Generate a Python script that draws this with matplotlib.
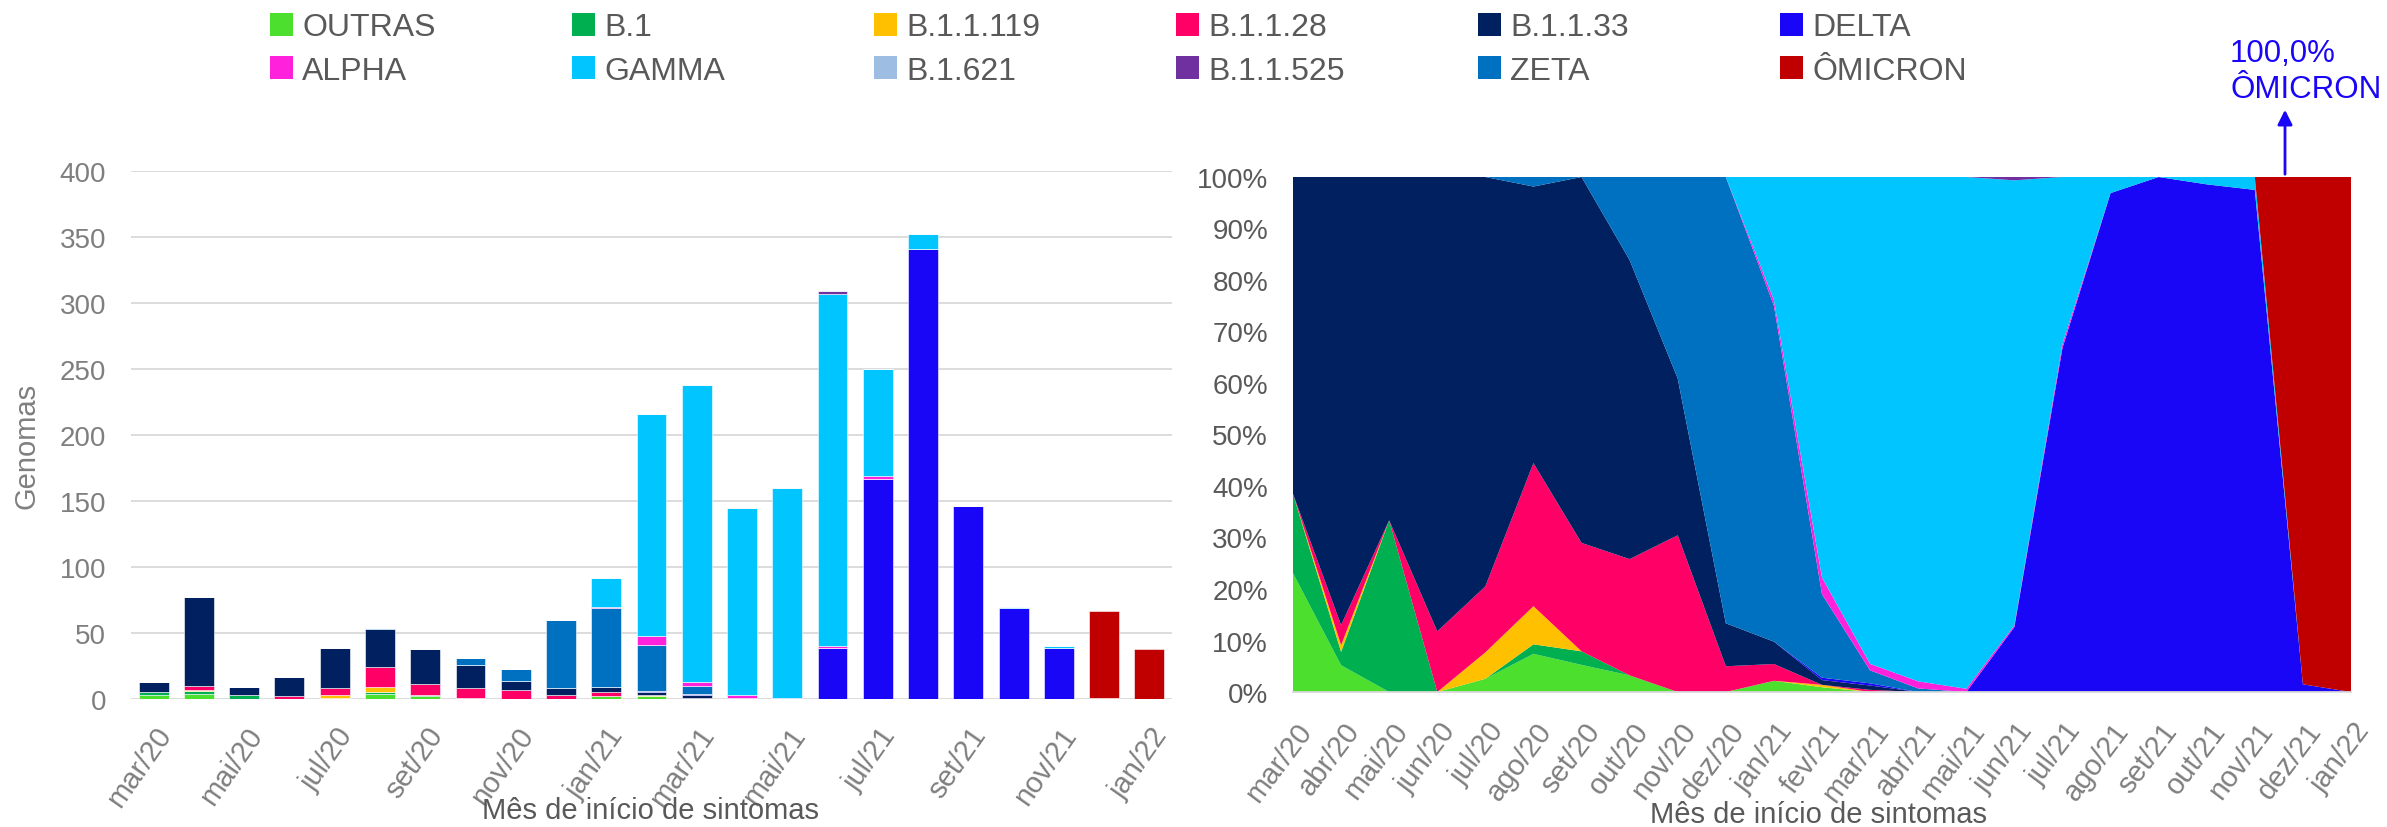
import numpy as np
import matplotlib
matplotlib.use("Agg")
import matplotlib.pyplot as plt
import matplotlib.transforms as mtransforms
from matplotlib.patches import Rectangle, FancyArrowPatch

plt.rcParams['font.family'] = ['Liberation Sans', 'DejaVu Sans']

months = ["mar/20", "abr/20", "mai/20", "jun/20", "jul/20", "ago/20", "set/20", "out/20",
          "nov/20", "dez/20", "jan/21", "fev/21", "mar/21", "abr/21", "mai/21", "jun/21",
          "jul/21", "ago/21", "set/21", "out/21", "nov/21", "dez/21", "jan/22"]

outras    = [3, 4, 0, 0, 1, 4, 2, 1, 0, 0, 2, 2, 0, 0, 0, 0, 0, 0, 0, 0, 0, 0, 0]
b1        = [2, 2, 3, 0, 0, 1, 1, 0, 0, 0, 0, 0, 0, 0, 0, 0, 0, 0, 0, 0, 0, 0, 0]
b11119    = [0, 1, 0, 0, 2, 4, 0, 0, 0, 0, 0, 1, 0, 0, 0, 0, 0, 0, 0, 0, 0, 0, 0]
b1128     = [0, 3, 0, 2, 5, 15, 8, 7, 7, 3, 3, 0, 1, 0, 0, 0, 0, 0, 0, 0, 0, 0, 0]
b1133     = [8, 67, 6, 15, 31, 29, 27, 18, 7, 5, 4, 2, 2, 0, 0, 0, 0, 0, 0, 0, 0, 0, 0]
delta     = [0, 0, 0, 0, 0, 0, 0, 0, 0, 0, 0, 1, 1, 0, 0, 39, 167, 341, 146, 69, 39, 1, 0]
b1621     = [0, 0, 0, 0, 0, 0, 0, 0, 0, 0, 0, 0, 0, 0, 0, 0, 0, 0, 0, 0, 0, 0, 0]
zeta      = [0, 0, 0, 0, 0, 1, 0, 5, 9, 52, 60, 35, 6, 1, 0, 0, 0, 0, 0, 0, 0, 0, 0]
alpha     = [0, 0, 0, 0, 0, 0, 0, 0, 0, 0, 1, 7, 3, 2, 1, 1, 2, 0, 0, 0, 0, 0, 0]
gamma     = [0, 0, 0, 0, 0, 0, 0, 0, 0, 0, 22, 168, 225, 142, 159, 267, 81, 11, 0, 1, 1, 0, 0]
b11525    = [0, 0, 0, 0, 0, 0, 0, 0, 0, 0, 0, 0, 0, 0, 0, 2, 0, 0, 0, 0, 0, 0, 0]
omicron   = [0, 0, 0, 0, 0, 0, 0, 0, 0, 0, 0, 0, 0, 0, 0, 0, 0, 0, 0, 0, 0, 66, 38]

# stacking order (bottom to top)
series = [
    ("OUTRAS", outras, "#4CDF2E"),
    ("B.1", b1, "#00B050"),
    ("B.1.1.119", b11119, "#FFC000"),
    ("B.1.1.28", b1128, "#FF0066"),
    ("B.1.1.33", b1133, "#002060"),
    ("DELTA", delta, "#1A06F6"),
    ("B.1.621", b1621, "#9DBDE2"),
    ("ZETA", zeta, "#0070C0"),
    ("ALPHA", alpha, "#FF21DC"),
    ("GAMMA", gamma, "#00C5FF"),
    ("B.1.1.525", b11525, "#7030A0"),
    ("ÔMICRON", omicron, "#C00000"),
]
legend_rows = [["OUTRAS", "B.1", "B.1.1.119", "B.1.1.28", "B.1.1.33", "DELTA"],
               ["ALPHA", "GAMMA", "B.1.621", "B.1.1.525", "ZETA", "ÔMICRON"]]
color_of = {n: c for n, _, c in series}

W, H = 2387, 828
fig = plt.figure(figsize=(W / 100, H / 100), dpi=100)

def fx(px):
    return px / W

def fy(py):
    return 1 - py / H

x = np.arange(len(months))
data = np.array([s[1] for s in series], dtype=float)

# ---------------- Left: stacked bars ----------------
ax1 = fig.add_axes([fx(131), fy(700), (1172 - 131) / W, (700 - 172) / H])
bottom = np.zeros(len(months))
for (name, vals, col), row in zip(series, data):
    ax1.bar(x, row, bottom=bottom, width=0.66, color=col, edgecolor="white", linewidth=0.4, zorder=3)
    bottom += row
ax1.set_xlim(-0.5, len(months) - 0.5)
ax1.set_ylim(0, 400)
ax1.set_yticks(np.arange(0, 401, 50))
ax1.grid(axis="y", color="#D9D9D9", linewidth=1.3, zorder=0)
for sp in ax1.spines.values():
    sp.set_visible(False)
ax1.tick_params(axis="both", length=0)
ax1.tick_params(axis="y", labelsize=20, labelcolor="#7F7F7F", pad=18)
ax1.set_xticks(x[::2])
ax1.set_xticklabels(months[::2], rotation=55, ha="right", va="center",
                    rotation_mode="anchor", fontsize=21, color="#7F7F7F")
ax1.tick_params(axis="x", pad=22)
off1 = mtransforms.ScaledTranslation(12 / 100, 0, fig.dpi_scale_trans)
for lab in ax1.get_xticklabels():
    lab.set_transform(lab.get_transform() + off1)

fig.text(fx(27), fy(446), "Genomas", rotation=90, ha="center", va="center",
         fontsize=21, color="#7F7F7F")
fig.text(fx(650), fy(811), "Mês de início de sintomas", ha="center", va="center",
         fontsize=21, color="#595959")

# ---------------- Right: 100% stacked area ----------------
ax2 = fig.add_axes([fx(1293), fy(693), (2351 - 1293) / W, (693 - 178) / H])
totals = data.sum(axis=0)
frac = data / totals
ax2.stackplot(x, *frac, colors=[s[2] for s in series], linewidth=0, zorder=2)
ax2.set_xlim(0, len(months) - 1)
ax2.set_ylim(0, 1)
ax2.set_yticks(np.linspace(0, 1, 11))
ax2.set_yticklabels([f"{int(v)}%" for v in np.arange(0, 101, 10)])
for name, sp in ax2.spines.items():
    sp.set_visible(name == "bottom")
ax2.spines["bottom"].set_color("#D9D9D9")
ax2.spines["bottom"].set_linewidth(1.3)
ax2.tick_params(axis="both", length=0)
ax2.tick_params(axis="y", labelsize=20, labelcolor="#595959", pad=18)
ax2.set_xticks(x)
ax2.set_xticklabels(months, rotation=53, ha="right", va="center",
                    rotation_mode="anchor", fontsize=21, color="#7F7F7F")
ax2.tick_params(axis="x", pad=24)
off2 = mtransforms.ScaledTranslation(13 / 100, 0, fig.dpi_scale_trans)
for lab in ax2.get_xticklabels():
    lab.set_transform(lab.get_transform() + off2)

fig.text(fx(1819), fy(815), "Mês de início de sintomas", ha="center", va="center",
         fontsize=21, color="#595959")

# annotation
blue = "#1A06F6"
fig.text(fx(2230), fy(62), "100,0%", ha="left", va="baseline", fontsize=22.5, color=blue)
fig.text(fx(2230), fy(98), "ÔMICRON", ha="left", va="baseline", fontsize=22.5, color=blue)
fig.add_artist(FancyArrowPatch(
    (fx(2285), fy(178)), (fx(2285), fy(108)), transform=fig.transFigure,
    arrowstyle="-|>", mutation_scale=22, color=blue, linewidth=2))

# ---------------- Legend ----------------
for r, row_names in enumerate(legend_rows):
    yc = 25 + 43 * r
    for i, name in enumerate(row_names):
        xl = 270 + 302 * i
        fig.add_artist(Rectangle((fx(xl), fy(yc + 11.5)), 23 / W, 23 / H,
                                 transform=fig.transFigure, facecolor=color_of[name],
                                 edgecolor="none"))
        fig.text(fx(xl + 32), fy(yc), name, ha="left", va="center_baseline",
                 fontsize=23, color="#595959")

fig.savefig("out.png", dpi=100)
